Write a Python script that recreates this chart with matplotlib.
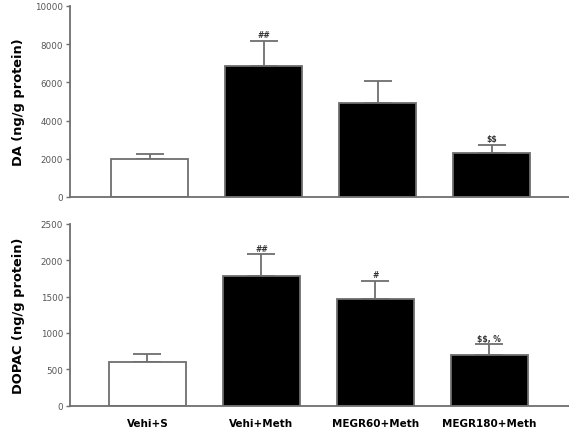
import numpy as np
import matplotlib.pyplot as plt

# données
groupes = ['Vehi+S', 'Vehi+Meth', 'MEGR60+Meth', 'MEGR180+Meth']
da = [1990, 6830, 4930, 2300]
da_err = [240, 1360, 1150, 420]
da_sig = ['', '##', '', '$$']
dopac = [598, 1790, 1465, 695]
dopac_err = [116, 290, 252, 148]
dopac_sig = ['', '##', '#', '$$, %']

gris = '#6e6e6e'
couleurs = ['white', 'black', 'black', 'black']

fig = plt.figure(figsize=(5.69, 4.35), dpi=100)
ax1 = fig.add_axes([0.123, 0.545, 0.877, 0.439])
ax2 = fig.add_axes([0.123, 0.065, 0.877, 0.418])

x = np.arange(len(groupes))


def panneau(ax, val, err, sig, ymax, pas, ylabel, decal):
    xs = x + decal
    ax.bar(xs, val, width=0.68, color=couleurs, edgecolor=gris, linewidth=1.3, zorder=2)
    ax.errorbar(xs, val, yerr=[np.zeros(len(val)), err], fmt='none', ecolor=gris,
                elinewidth=1.3, capsize=10, capthick=1.3, zorder=1)
    for xi, v, e, s in zip(xs, val, err, sig):
        if s:
            ax.text(xi, v + e + ymax * 0.008, s, ha='center', va='bottom',
                    fontsize=5.5, fontweight='bold', color='#333333',
                    parse_math=False)
    ax.set_xlim(-0.70, 3.68)
    ax.set_ylim(0, ymax)
    ax.set_yticks(np.arange(0, ymax + 1, pas))
    ax.tick_params(axis='y', labelsize=6.3, labelcolor='#555555', color=gris,
                   length=3, width=1, pad=2)
    ax.spines['top'].set_visible(False)
    ax.spines['right'].set_visible(False)
    for sp in ['left', 'bottom']:
        ax.spines[sp].set_color(gris)
        ax.spines[sp].set_linewidth(1.3)
    ax.set_ylabel(ylabel, fontsize=9.4, fontweight='bold')
    ax.yaxis.set_label_coords(-0.09, 0.5)


panneau(ax1, da, da_err, da_sig, 10000, 2000, 'DA (ng/g protein)', 0.0)
panneau(ax2, dopac, dopac_err, dopac_sig, 2500, 500, 'DOPAC (ng/g protein)', -0.02)

ax1.set_xticks([])
ax2.set_xticks(x - 0.02)
ax2.set_xticklabels(groupes, fontsize=7.5, fontweight='bold')
ax2.tick_params(axis='x', length=0, pad=9)

plt.savefig('out.png', dpi=100)
